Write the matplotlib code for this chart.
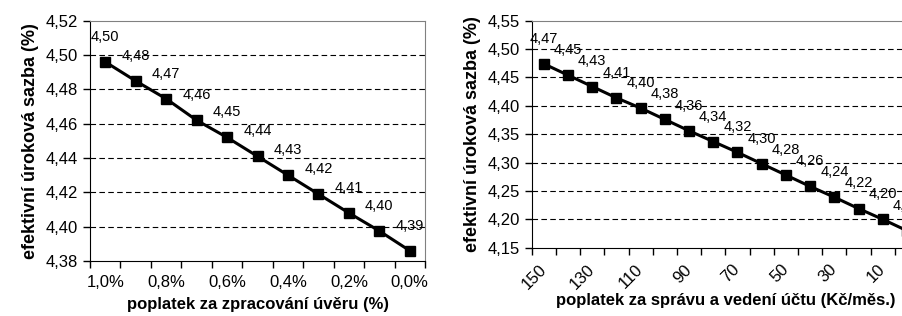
import matplotlib
matplotlib.use('Agg')
import matplotlib.pyplot as plt
import matplotlib.transforms as mtransforms
import numpy as np

plt.rcParams['font.family'] = ['Liberation Sans', 'DejaVu Sans']

# left chart: poplatek za zpracovani uveru
fee_cats = ['1,0%', '0,9%', '0,8%', '0,7%', '0,6%', '0,5%', '0,4%', '0,3%', '0,2%', '0,1%', '0,0%']
fee_rate = [4.496, 4.4849, 4.4745, 4.462, 4.452, 4.441, 4.430, 4.419, 4.408, 4.3975, 4.386]
fee_yticks = [4.38, 4.40, 4.42, 4.44, 4.46, 4.48, 4.50, 4.52]

# right chart: poplatek za spravu a vedeni uctu
acc_cats = ['150', '140', '130', '120', '110', '100', '90', '80', '70', '60', '50', '40', '30', '20', '10', '0']
acc_rate = [4.474, 4.454, 4.434, 4.414, 4.396, 4.376, 4.356, 4.337, 4.318, 4.298,
            4.278, 4.258, 4.239, 4.219, 4.200, 4.180]
acc_yticks = [4.15, 4.20, 4.25, 4.30, 4.35, 4.40, 4.45, 4.50, 4.55]


def fmt(v):
    return ('%.2f' % v).replace('.', ',')


def draw(ax, cats, vals, yticks, xlabel, rot):
    n = len(cats)
    x = np.arange(n)
    ax.plot(x, vals, color='black', lw=2.2, marker='s', ms=7, zorder=3, clip_on=False)
    for xi, v in zip(x, vals):
        ax.annotate(fmt(v), (xi, v), xytext=(0, 13), textcoords='offset points',
                    ha='center', va='bottom', fontsize=10.5, clip_on=False)
    ax.set_xlim(-0.5, n - 0.5)
    ax.set_ylim(yticks[0], yticks[-1])
    ax.set_yticks(yticks)
    ax.set_yticklabels([fmt(t) for t in yticks], fontsize=12)
    for t in yticks[1:-1]:
        ax.axhline(t, color='black', lw=0.8, ls=(0, (5, 3)), zorder=1)
    ax.set_xticks(np.arange(n + 1) - 0.5, minor=True)
    ax.set_xticks(x[::2])
    if rot:
        ax.set_xticklabels(cats[::2], fontsize=12, rotation=45, ha='right',
                           va='center', rotation_mode='anchor')
        shift = mtransforms.ScaledTranslation(-8 / 72, 0, ax.figure.dpi_scale_trans)
        for lab in ax.get_xticklabels():
            lab.set_transform(lab.get_transform() + shift)
        ax.tick_params(axis='x', which='major', length=0, pad=14)
        ax.set_xlabel(xlabel, fontsize=12, fontweight='bold', labelpad=1)
    else:
        ax.set_xticklabels(cats[::2], fontsize=12)
        ax.tick_params(axis='x', which='major', length=0, pad=10)
        ax.set_xlabel(xlabel, fontsize=12, fontweight='bold', labelpad=5)
    ax.tick_params(axis='x', which='minor', length=5, width=1, direction='out')
    ax.tick_params(axis='y', length=5, width=1, direction='out')
    ax.spines['top'].set_color('#808080')
    ax.spines['right'].set_color('#808080')
    ax.set_ylabel('efektivní úroková sazba (%)', fontsize=13, fontweight='bold', labelpad=5)


fig = plt.figure(figsize=(9.02, 3.16), dpi=100)
ax1 = fig.add_axes([0.0998, 0.174, 0.3714, 0.7605])
ax2 = fig.add_axes([0.5895, 0.2161, 0.4294, 0.7184])

draw(ax1, fee_cats, fee_rate, fee_yticks, 'poplatek za zpracování úvěru (%)', False)
draw(ax2, acc_cats, acc_rate, acc_yticks, 'poplatek za správu a vedení účtu (Kč/měs.)', True)

fig.savefig('out.png', dpi=100)
